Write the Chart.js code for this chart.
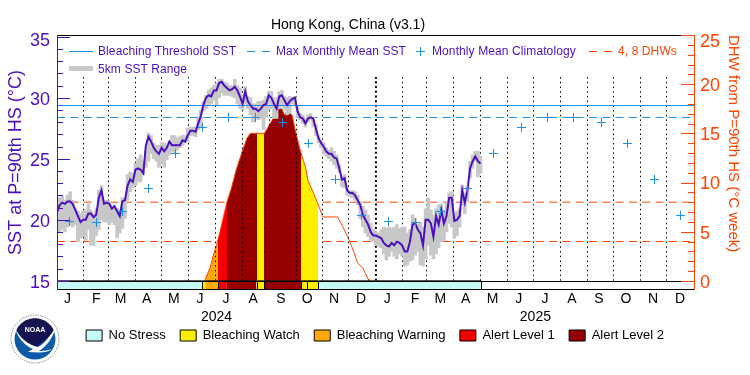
<!DOCTYPE html>
<html>
<head>
<meta charset="utf-8">
<title>Hong Kong, China (v3.1)</title>
<script src="https://cdn.jsdelivr.net/npm/chart.js@4/dist/chart.umd.min.js"></script>
<style>
  body { margin: 0; background: #fff; }
  #wrap { position: relative; width: 750px; height: 375px; overflow: hidden; }
  canvas { position: absolute; left: 0; top: 0; }
  svg { position: absolute; left: 0; top: 0; }
  .key { position: absolute; font: 12px "Liberation Sans", sans-serif; letter-spacing: 0.1px; color: #4b0fbf; white-space: nowrap; line-height: 14px; }
</style>
</head>
<body>
<div id="wrap">
  <canvas id="bleachingChart" width="750" height="375"></canvas>
  <div class="key" style="left:98px;top:44px">Bleaching Threshold SST</div>
  <div class="key" style="left:276px;top:44px">Max Monthly Mean SST</div>
  <div class="key" style="left:432px;top:44px">Monthly Mean Climatology</div>
  <div class="key" style="left:618px;top:44px;color:#ff4400">4, 8 DHWs</div>
  <div class="key" style="left:98px;top:62px">5km SST Range</div>
  <svg width="750" height="375">
    <line x1="69" y1="51.5" x2="93" y2="51.5" stroke="#1a8fe8"/>
    <line x1="247" y1="51.5" x2="271" y2="51.5" stroke="#1a8fe8" stroke-dasharray="8 7"/>
    <path d="M420.5 47v9M416 51.5h9" stroke="#1a8fe8" fill="none"/>
    <line x1="589" y1="51.5" x2="612" y2="51.5" stroke="#ff4400" stroke-dasharray="8 7"/>
    <rect x="69" y="66" width="24" height="5" fill="#c8c8c8"/>
    <!-- NOAA logo -->
    <circle cx="35" cy="339" r="24" fill="#fff" stroke="#8a8a8a" stroke-dasharray="1.5 1"/>
    <circle cx="35" cy="339" r="20.5" fill="#0d5aa7"/>
    <path d="M16 331A20.5 20.5 0 0 1 54 331C49 338 42 343 36 347C28 345 20 338 16 331Z" fill="#15134f"/>
    <path d="M15 328C20 338 28 345 38 347C44 344 50 336 56 327C53 338 46 347 39 351C44 351 50 350 52 349C46 354 36 352 28 352L33 349C25 346 18 338 15 328Z" fill="#fff"/>
    <text x="35" y="332" text-anchor="middle" font-family="Liberation Sans" font-weight="bold" font-size="7" fill="#fff">NOAA</text>
  </svg>
</div>
<script>
const titleText = 'Hong Kong, China (v3.1)'
const leftAxisTitle = 'SST at P=90th HS (°C)'
const rightAxisTitle = 'DHW from P=90th HS (°C week)'

const monthLabels = ['J','F','M','A','M','J','J','A','S','O','N','D','J','F','M','A','M','J','J','A','S','O','N','D']
const monthLabelDays = [12,45,73,103,134,164,194,225,257,287,318,349,379,411,440,469,500,530,560,591,622,653,684,715]
const yearLabels = ['2024','2025']
const yearLabelDays = [183,549]
const monthEdgeDays = [30.41,59.1,90.08,119.92,150.9,181.89,212.87,243.86,274.84,304.68,334.51,396.48,424.02,455,485.99,516.97,546.81,577.8,608.78,638.6,669.6,699.44]
const yearEdgeDays = [366]

const sstTicks = [15,20,25,30,35]
const sstMinorTicks = [16,17,18,19,21,22,23,24,26,27,28,29,31,32,33,34]
const dhwTicks = [0,5,10,15,20,25]
const dhwMinorTicks = [1,2,3,4,6,7,8,9,11,12,13,14,16,17,18,19,21,22,23,24]

const sstDays = [0,3,6,9,12,15,18,21,24,27,30,33,36,39,42,45,48,51,54,57,60,63,66,69,72,75,78,81,84,87,90,93,96,99,102,105,108,111,114,117,120,123,126,129,132,135,138,141,144,147,150,153,156,159,162,165,168,171,174,177,180,183,186,189,192,195,198,201,204,207,210,213,216,219,222,225,228,231,234,237,240,243,246,249,252,255,258,261,264,267,270,273,276,279,282,285,288,291,294,297,300,303,306,309,312,315,318,321,324,327,330,333,336,339,342,345,348,351,354,357,360,363,366,369,372,375,378,381,384,387,390,393,396,399,402,405,408,411,414,417,420,423,426,429,432,435,438,441,444,447,450,453,456,459,462,465,468,471,474,477,480,483,486]
const sstValues = [20.6,21.2,21.4,21.3,21.5,21.5,21.3,20.8,20.3,19.8,20.0,20.0,20.5,20.5,20.2,20.4,21.8,22.4,21.3,21.4,21.3,20.9,21.1,20.7,20.3,21.5,21.6,22.8,23.3,23.1,24.1,24.2,24.1,23.8,
  26.1,26.8,26.4,25.9,25.6,25.4,25.9,25.6,25.9,26.4,26.1,26.1,26.1,26.1,26.5,26.4,26.9,27.3,27.3,27.2,27.9,28.5,29.4,30.0,30.2,30.1,30.6,30.6,31.2,31.3,31.0,30.8,30.6,30.7,30.9,30.6,30.1,29.5,30.5,
  29.7,29.4,29.1,29.1,28.9,29.1,29.4,29.5,30.2,30.0,29.5,29.1,30.1,30.2,29.8,29.4,29.7,29.9,30.0,28.9,28.4,28.3,27.9,28.3,28.4,28.3,27.5,26.7,26.3,26.0,25.6,25.4,
  25.4,25.1,25.0,24.2,23.3,23.4,22.4,22.2,22.2,22.0,21.6,21.2,20.4,20.0,19.6,19.0,18.7,18.7,18.6,18.5,18.1,17.9,17.8,18.1,17.9,18.2,18.1,17.9,
  17.4,17.4,18.2,19.6,19.7,19.2,18.9,17.9,20.0,20.0,19.7,18.6,20.3,19.6,20.8,19.7,20.3,21.8,21.8,19.9,20.0,20.3,22.4,21.4,22.4,24.2,24.8,25.2,24.8,24.6]
const sstHigh = [20.9,21.8,21.9,21.6,22.0,22.3,21.6,20.9,20.7,20.5,20.7,20.8,21.3,20.8,20.5,20.9,22.4,22.8,21.6,21.6,21.5,21.2,21.2,20.9,20.8,21.8,21.8,23.7,23.9,23.8,24.6,25.0,25.3,24.8,25.6,27.1,26.9,26.3,26.1,26.1,26.3,26.3,26.1,26.4,26.9,26.9,26.7,26.8,26.9,26.9,
  27.5,27.6,27.6,27.6,28.3,29.0,29.7,30.2,30.6,30.8,31.0,31.2,31.5,31.5,31.3,31.2,31.0,31.0,31.5,31.0,30.8,30.2,
  30.9,30.1,30.0,29.5,29.5,29.7,29.7,29.8,30.1,30.5,30.5,30.0,30.0,30.5,30.6,30.1,30.0,30.1,30.0,30.1,29.3,28.7,28.6,28.3,28.6,28.7,28.4,27.8,26.9,26.5,26.3,25.9,25.7,
  25.9,25.6,25.3,24.5,23.5,23.7,22.6,22.4,22.4,22.3,22.0,21.5,21.1,20.8,20.4,19.7,19.2,19.0,18.9,19.2,19.4,19.3,19.4,19.3,19.4,19.6,19.3,19.4,19.4,
  18.9,19.2,20.4,20.1,19.6,19.8,19.4,20.9,21.8,20.8,20.4,20.9,21.2,21.3,20.8,21.5,22.2,22.3,20.5,20.7,20.9,22.8,22.2,22.8,24.8,25.3,25.6,25.6,25.2]
const sstLow = [18.9,19.0,19.2,19.0,19.4,19.6,19.4,19.6,18.2,18.5,18.6,18.3,19.2,17.9,17.9,18.7,19.2,20.0,19.8,19.8,19.6,19.8,19.6,18.5,18.9,19.3,20.1,21.6,22.3,22.6,22.8,23.1,23.1,23.7,24.3,24.8,25.4,25.0,24.8,24.3,24.6,24.3,24.9,25.3,25.6,25.4,25.7,25.9,26.1,26.3,
  26.4,26.9,26.9,26.8,27.4,27.6,28.9,29.1,29.3,29.5,29.8,29.4,30.0,30.4,30.2,30.2,30.2,30.1,30.0,29.5,29.1,29.0,
  29.5,29.1,28.6,28.0,28.4,28.2,28.3,27.4,28.4,29.0,29.1,28.3,28.3,29.1,29.3,29.1,28.6,28.7,29.5,29.4,28.4,28.2,27.9,27.6,28.0,28.2,27.6,26.9,26.3,25.9,25.4,25.2,25.0,
  24.8,24.5,24.2,23.9,22.7,22.6,22.0,21.9,21.8,21.6,21.2,20.1,19.4,18.9,18.6,18.3,18.2,17.9,17.8,17.7,17.2,16.7,17.0,17.4,17.0,16.8,17.2,17.0,16.2,
  16.3,16.6,16.7,17.1,17.4,16.3,16.2,16.8,17.9,17.1,16.8,17.2,17.7,18.2,18.3,19.0,19.7,19.4,18.5,18.7,19.4,21.2,20.5,21.5,23.4,24.2,24.8,23.5,23.8]

const climDays = [14.35,45.33,75.16,104.99,136,166.97,196.8,227.8,258.8,288.6,319.6,349.4,380.4,411.4,440.1,471.1,500.9,533,562.9,592.7,624.9,654.7,685.7,715.5]
const climValues = [19.85,19.77,20.67,22.56,25.43,27.56,28.38,28.38,27.97,26.25,23.3,20.35,19.85,19.77,20.67,22.56,25.43,27.56,28.38,28.38,27.97,26.25,23.3,20.35]
const thresholdSst = 29.36
const maxMonthlyMean = 28.38
const dhwLevels = [4,8]
const axisDays = [0,731]

const dhwDays = [170,176,179,183,187,191,195,200,206,212,218,222,238,242,248,254,258,261,265,270,273,279,285,288,294,300,305,322,328,334,340,345,351,357,358]
const dhwValues = [0.1,1.4,2.5,3.6,5.0,6.5,8.0,9.4,11.4,13.0,14.5,15.0,15.0,15.6,16.5,17.5,17.5,16.9,17.3,16.8,15.5,13.3,11.6,10.2,9.0,7.7,6.5,6.5,5.5,4.4,3.1,1.8,1.3,0.2,0]

const noStressRanges = [[0,166],[300,487]]
const watchRanges = [[166,170],[229,238],[280,287],[287,300]]
const warningRanges = [[170,185]]
const alert1Ranges = [[185,195]]
const alert2Ranges = [[195,229],[238,280]]

const purple = '#4b0fbf'
const orangeRed = '#ff4400'
const blue = '#1a8fe8'
const stressLevels = [
  { label: 'No Stress', ranges: noStressRanges, color: '#c6faf7', fillsArea: false },
  { label: 'Bleaching Watch', ranges: watchRanges, color: '#fff000', fillsArea: true },
  { label: 'Bleaching Warning', ranges: warningRanges, color: '#ffa90a', fillsArea: true },
  { label: 'Alert Level 1', ranges: alert1Ranges, color: '#f40000', fillsArea: true },
  { label: 'Alert Level 2', ranges: alert2Ranges, color: '#960000', fillsArea: true }
]

function fixedTicks(values) {
  return function (scale) {
    scale.ticks = values.map(function (value) { return { value: value } })
  }
}

// an empty first line pushes the number down by half the line height
function nudgedLabel(value) {
  return ['', String(value)]
}

function nudgedFont(topValue, topShift) {
  return function (context) {
    const shift = context.tick && context.tick.value === topValue ? topShift : 2
    return { family: 'Liberation Sans', size: 18, lineHeight: (shift * 2) + 'px' }
  }
}

// vertical segments with a null between them so the line breaks
function edgeLines(days) {
  const out = []
  days.forEach(function (d) {
    out.push({ x: d, y: 15 }, { x: d, y: 31.7 }, { x: d, y: null })
  })
  return out
}

function hLine(value) {
  return [{ x: axisDays[0], y: value }, { x: axisDays[1], y: value }]
}

function stressPoints(ranges) {
  const out = []
  ranges.forEach(function (r) {
    out.push({ x: r[0], y: 0 }, { x: r[1], y: 0 }, { x: r[1], y: null })
  })
  return out
}

// hard colour stops so the area under the DHW line follows the stress level
function stressGradient(context) {
  const chart = context.chart
  const area = chart.chartArea
  if (!area) return 'transparent'
  const grad = chart.ctx.createLinearGradient(area.left, 0, area.right, 0)
  const stop = function (d) { return (d - axisDays[0]) / (axisDays[1] - axisDays[0]) }
  const parts = []
  stressLevels.forEach(function (level) {
    if (!level.fillsArea) return
    level.ranges.forEach(function (r) { parts.push([r[0], r[1], level.color]) })
  })
  parts.sort(function (a, b) { return a[0] - b[0] })
  grad.addColorStop(stop(parts[0][0]), 'rgba(255,255,255,0)')
  parts.forEach(function (p) {
    grad.addColorStop(stop(p[0]), p[2])
    grad.addColorStop(stop(p[1]), p[2])
  })
  grad.addColorStop(stop(parts[parts.length - 1][1]), 'rgba(255,255,255,0)')
  return grad
}

const stressDatasets = stressLevels.map(function (level) {
  return {
    type: 'line',
    label: level.label,
    isStress: true,
    data: stressPoints(level.ranges),
    yAxisID: 'y1',
    backgroundColor: level.color,
    borderColor: '#000',
    borderWidth: 1,
    pointRadius: 0,
    fill: { value: -1 },
    order: 0
  }
})

const frameMarks = {
  id: 'frameMarks',
  afterLayout(chart) {
    // the title sits left of the canvas centre in the original
    chart.titleBlock.right = 696
    // labels get clipped to the scale box, so let the year axis box run down under the legend
    chart.scales.xYear.bottom = chart.height
  },
  afterDatasetsDraw(chart) {
    const ctx = chart.ctx
    const area = chart.chartArea
    const { x, y, y1 } = chart.scales
    ctx.save()
    ctx.lineWidth = 1

    ctx.strokeStyle = '#000'
    ctx.beginPath()
    ctx.moveTo(area.left, area.top + 0.5)
    ctx.lineTo(area.right, area.top + 0.5)
    ctx.moveTo(area.left, area.bottom - 0.5)
    ctx.lineTo(area.right, area.bottom - 0.5)
    const barTop = Math.round(y1.getPixelForValue(0))
    ctx.moveTo(area.left, barTop + 0.5)
    ctx.lineTo(area.right, barTop + 0.5)
    // dividers in the stress bar
    const edges = [166, 185, 195, 229, 238, 280, 287, 300, 487]
    edges.forEach(function (d) {
      const px = Math.round(x.getPixelForValue(d)) + 0.5
      ctx.moveTo(px, barTop)
      ctx.lineTo(px, area.bottom)
    })
    ctx.stroke()

    function ticks(scale, values, xFrom, len, color) {
      ctx.strokeStyle = color
      ctx.beginPath()
      values.forEach(function (v) {
        const py = Math.round(scale.getPixelForValue(v)) + 0.5
        ctx.moveTo(xFrom, py)
        ctx.lineTo(xFrom + len, py)
      })
      ctx.stroke()
    }
    ticks(y, sstTicks, area.left, 13, purple)
    ticks(y, sstMinorTicks, area.left, 6, purple)
    ticks(y1, dhwTicks, area.right, -13, orangeRed)
    ticks(y1, dhwMinorTicks, area.right, -6, orangeRed)

    ctx.beginPath()
    ctx.strokeStyle = purple
    ctx.moveTo(area.left + 0.5, area.top)
    ctx.lineTo(area.left + 0.5, area.bottom)
    ctx.stroke()
    ctx.beginPath()
    ctx.strokeStyle = orangeRed
    ctx.moveTo(area.right + 0.5, area.top)
    ctx.lineTo(area.right + 0.5, area.bottom)
    ctx.stroke()
    ctx.restore()
  }
}

const data = {
  datasets: [
    {
      type: 'line', label: '4 DHW', data: hLine(dhwLevels[0]), yAxisID: 'y1',
      borderColor: orangeRed, borderWidth: 1, borderDash: [8, 5.3], pointRadius: 0, order: 9
    },
    {
      type: 'line', label: '8 DHW', data: hLine(dhwLevels[1]), yAxisID: 'y1',
      borderColor: orangeRed, borderWidth: 1, borderDash: [8, 5.3], pointRadius: 0, order: 9
    },
    {
      type: 'line', label: 'Max Monthly Mean SST', data: hLine(maxMonthlyMean), yAxisID: 'y',
      borderColor: blue, borderWidth: 1, borderDash: [8, 5.3], pointRadius: 0, order: 9
    },
    {
      type: 'line', label: 'DHW', data: dhwValues.map(function (v, i) { return { x: dhwDays[i], y: v } }), yAxisID: 'y1',
      borderColor: orangeRed, borderWidth: 1, backgroundColor: stressGradient, fill: { value: 0 }, pointRadius: 0, order: 8
    },
    {
      type: 'line', label: 'Month edges', data: edgeLines(monthEdgeDays), yAxisID: 'y',
      borderColor: '#000', borderWidth: 1, borderDash: [1.5, 3.2], pointRadius: 0, order: 7
    },
    {
      type: 'line', label: 'Year edge', data: edgeLines(yearEdgeDays), yAxisID: 'y',
      borderColor: '#000', borderWidth: 2, borderDash: [2, 2.7], pointRadius: 0, order: 7
    },
    {
      type: 'bar', label: '5km SST Range', data: sstLow.map(function (v, i) { return { x: sstDays[i], y: [v, sstHigh[i]] } }), yAxisID: 'y',
      backgroundColor: '#c8c8c8', barThickness: 3, order: 6
    },
    {
      type: 'line', label: 'Bleaching Threshold SST', data: hLine(thresholdSst), yAxisID: 'y',
      borderColor: blue, borderWidth: 1, pointRadius: 0, order: 5
    },
    {
      type: 'line', label: 'SST', data: sstValues.map(function (v, i) { return { x: sstDays[i], y: v } }), yAxisID: 'y',
      borderColor: purple, borderWidth: 2, pointRadius: 0, order: 2
    },
    {
      type: 'line', label: 'Monthly Mean Climatology', data: climValues.map(function (v, i) { return { x: climDays[i], y: v } }), yAxisID: 'y',
      showLine: false, borderColor: blue, backgroundColor: blue, pointStyle: 'cross', pointRadius: 4.5, pointBorderWidth: 1, order: 1
    }
  ].concat(stressDatasets)
}

const config = {
  type: 'line',
  data,
  options: {
    responsive: false,
    animation: false,
    layout: { padding: { left: 0, right: 0, top: 0, bottom: 23 } },
    plugins: {
      title: {
        display: true,
        text: titleText,
        color: '#000',
        font: { family: 'Liberation Sans', size: 14, weight: 'normal' },
        padding: { top: 16.5, bottom: 1.7 }
      },
      legend: {
        position: 'bottom',
        labels: {
          filter: function (item, chartData) { return chartData.datasets[item.datasetIndex].isStress },
          color: '#000',
          font: { family: 'Liberation Sans', size: 13 },
          boxWidth: 16,
          boxHeight: 11,
          padding: 14.5
        }
      },
      tooltip: { enabled: false }
    },
    scales: {
      x: {
        type: 'linear',
        position: 'bottom',
        min: axisDays[0],
        max: axisDays[1],
        offset: false,
        afterBuildTicks: fixedTicks(monthLabelDays),
        afterFit: function (scale) { scale.height = 19 },
        grid: { display: false, offset: false, drawTicks: false },
        border: { display: false },
        ticks: {
          autoSkip: false,
          maxRotation: 0,
          padding: 1,
          color: '#000',
          font: { family: 'Liberation Sans', size: 14 },
          callback: function (v, i) { return monthLabels[i] }
        }
      },
      xYear: {
        type: 'linear',
        position: 'bottom',
        weight: 1,
        min: axisDays[0],
        max: axisDays[1],
        afterBuildTicks: fixedTicks(yearLabelDays),
        afterFit: function (scale) { scale.height = 5.5 },
        grid: { display: false, drawTicks: false },
        border: { display: false },
        ticks: {
          autoSkip: false,
          maxRotation: 0,
          padding: 0,
          color: '#000',
          font: { family: 'Liberation Sans', size: 14 },
          callback: function (v, i) { return yearLabels[i] }
        }
      },
      y: {
        position: 'left',
        min: 14.24,
        max: 35.14,
        afterBuildTicks: fixedTicks(sstTicks),
        afterFit: function (scale) { scale.width = 57 },
        grid: { display: false, drawTicks: false },
        border: { display: false },
        title: {
          display: true,
          text: leftAxisTitle,
          color: purple,
          font: { family: 'Liberation Sans', size: 18 },
          padding: { top: 5, bottom: 0 }
        },
        ticks: {
          padding: 7,
          color: purple,
          font: nudgedFont(35, 4),
          callback: nudgedLabel
        }
      },
      y1: {
        position: 'right',
        min: -0.93,
        max: 25,
        afterBuildTicks: fixedTicks(dhwTicks),
        afterFit: function (scale) { scale.width = 56 },
        grid: { display: false, drawTicks: false },
        border: { display: false },
        title: {
          display: true,
          text: rightAxisTitle,
          align: 'end',
          color: orangeRed,
          font: { family: 'Liberation Sans', size: 15 },
          padding: { top: 8, bottom: 0 }
        },
        ticks: {
          padding: 6,
          color: orangeRed,
          font: nudgedFont(25, 7),
          callback: nudgedLabel
        }
      }
    }
  },
  plugins: [frameMarks]
}

const myChart = new Chart(document.getElementById('bleachingChart'), config)
</script>
</body>
</html>
